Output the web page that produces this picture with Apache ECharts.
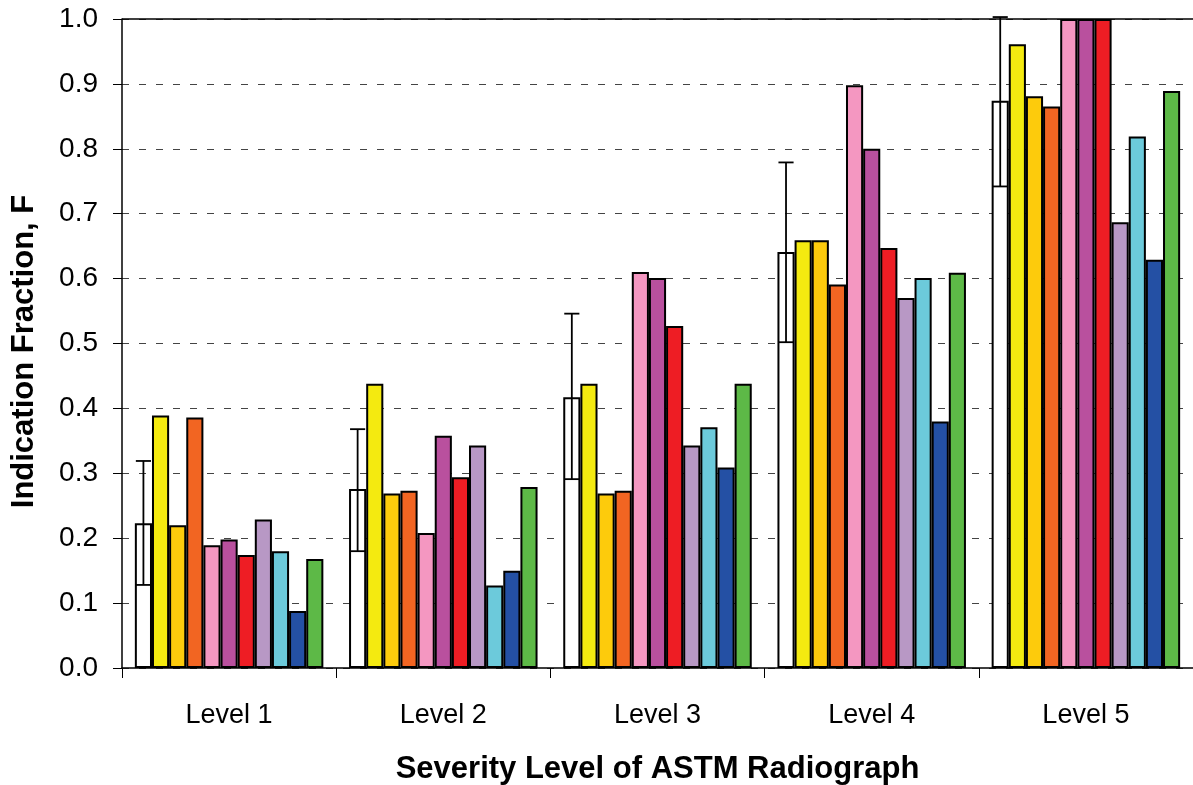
<!DOCTYPE html>
<html>
<head>
<meta charset="utf-8">
<script src="https://cdn.jsdelivr.net/npm/echarts@6/dist/echarts.min.js"></script>
<style>
html,body{margin:0;padding:0;background:#fff;}
#chart{width:1193px;height:785px;}
</style>
</head>
<body>
<div id="chart"></div>
<script>
// ---- data ----
var categories = ['Level 1', 'Level 2', 'Level 3', 'Level 4', 'Level 5'];
var whiteVals    = [0.223, 0.276, 0.417, 0.641, 0.874];
var errLow       = [0.128, 0.180, 0.291, 0.502, 0.742];
var errHigh      = [0.319, 0.368, 0.546, 0.779, 1.003];
var yellowVals   = [0.389, 0.438, 0.438, 0.659, 0.961];
var goldVals     = [0.220, 0.269, 0.269, 0.659, 0.881];
var orangeVals   = [0.386, 0.273, 0.273, 0.591, 0.865];
var pinkVals     = [0.189, 0.208, 0.610, 0.898, 1.000];
var magentaVals  = [0.198, 0.358, 0.601, 0.800, 1.000];
var redVals      = [0.174, 0.294, 0.527, 0.647, 1.000];
var lavenderVals = [0.229, 0.343, 0.343, 0.570, 0.687];
var cyanVals     = [0.180, 0.127, 0.371, 0.601, 0.819];
var blueVals     = [0.088, 0.150, 0.309, 0.380, 0.629];
var greenVals    = [0.168, 0.279, 0.438, 0.609, 0.889];
var yTicks = [0, 0.1, 0.2, 0.3, 0.4, 0.5, 0.6, 0.7, 0.8, 0.9, 1.0];

var seriesDefs = [
  {name: 'Mean', data: whiteVals, color: '#FFFFFF'},
  {name: 'S1', data: yellowVals, color: '#F4EA10'},
  {name: 'S2', data: goldVals, color: '#FDCB0C'},
  {name: 'S3', data: orangeVals, color: '#F26522'},
  {name: 'S4', data: pinkVals, color: '#F497C1'},
  {name: 'S5', data: magentaVals, color: '#B9509E'},
  {name: 'S6', data: redVals, color: '#EE1D24'},
  {name: 'S7', data: lavenderVals, color: '#B898C5'},
  {name: 'S8', data: cyanVals, color: '#6CCADB'},
  {name: 'S9', data: blueVals, color: '#2450A4'},
  {name: 'S10', data: greenVals, color: '#5DB947'}
];

var CAT_GAP = 0.12;
var NBARS = seriesDefs.length;

var series = seriesDefs.map(function (s, k) {
  var o = {
    name: s.name,
    type: 'bar',
    data: s.data,
    barGap: '0%',
    barCategoryGap: (CAT_GAP * 100) + '%',
    itemStyle: {color: s.color, borderColor: '#000', borderWidth: 2},
    emphasis: {disabled: true},
    z: 2
  };
  if (k === 0) {
    o.markLine = {
      silent: true,
      symbol: ['none', 'none'],
      label: {show: false},
      lineStyle: {color: '#000', width: 1.5, type: 'solid'},
      data: [{yAxis: yTicks[yTicks.length - 1]}]
    };
  }
  return o;
});

var errData = categories.map(function (c, i) { return [i, errLow[i], errHigh[i]]; });
series.push({
  name: 'Error',
  type: 'custom',
  data: errData,
  clip: false,
  z: 5,
  encode: {x: 0, y: [1, 2]},
  renderItem: function (params, api) {
    var idx = api.value(0);
    var band = api.size([1, 0])[0];
    var bw = band * (1 - CAT_GAP) / NBARS;
    var lo = api.coord([idx, api.value(1)]);
    var hi = api.coord([idx, api.value(2)]);
    var cx = lo[0] - (NBARS - 1) / 2 * bw;
    var half = bw / 2 - 1;
    var st = {stroke: '#000', lineWidth: 1.8};
    return {
      type: 'group',
      children: [
        {type: 'line', shape: {x1: cx, y1: lo[1], x2: cx, y2: hi[1]}, style: st},
        {type: 'line', shape: {x1: cx - half, y1: hi[1], x2: cx + half, y2: hi[1]}, style: st},
        {type: 'line', shape: {x1: cx - half, y1: lo[1], x2: cx + half, y2: lo[1]}, style: st}
      ]
    };
  }
});

var chart = echarts.init(document.getElementById('chart'), null, {renderer: 'canvas'});
chart.setOption({
  animation: false,
  backgroundColor: '#fff',
  textStyle: {fontFamily: 'Liberation Sans, Arial, sans-serif', color: '#000'},
  grid: {left: 122, right: 0, top: 19, bottom: 117, show: false, containLabel: false, outerBoundsMode: 'none'},
  xAxis: {
    type: 'category',
    data: categories,
    name: 'Severity Level of ASTM Radiograph',
    nameLocation: 'middle',
    nameGap: 86,
    nameTextStyle: {fontSize: 31, fontWeight: 'bold', color: '#000', fontFamily: 'Liberation Sans, Arial, sans-serif'},
    axisLine: {lineStyle: {color: '#000', width: 1.5}},
    axisTick: {show: true, length: 10, lineStyle: {color: '#000', width: 1}},
    axisLabel: {fontSize: 27, color: '#000', margin: 34, fontFamily: 'Liberation Sans, Arial, sans-serif'},
    splitLine: {show: false}
  },
  yAxis: {
    type: 'value',
    min: yTicks[0],
    max: yTicks[yTicks.length - 1],
    interval: 0.1,
    name: 'Indication Fraction, F',
    nameLocation: 'middle',
    nameGap: 82,
    nameRotate: 90,
    nameTextStyle: {fontSize: 31, fontWeight: 'bold', color: '#000', padding: [0, 16, 0, 0], fontFamily: 'Liberation Sans, Arial, sans-serif'},
    axisLine: {show: true, lineStyle: {color: '#000', width: 1.5}},
    axisTick: {show: true, length: 9, lineStyle: {color: '#000', width: 1}},
    axisLabel: {fontSize: 28, color: '#000', margin: 24, fontFamily: 'Liberation Sans, Arial, sans-serif',
      formatter: function (v) { return v.toFixed(1); }},
    splitLine: {show: true, lineStyle: {color: '#444', width: 1, type: [7, 10]}}
  },
  series: series
});
</script>
</body>
</html>
